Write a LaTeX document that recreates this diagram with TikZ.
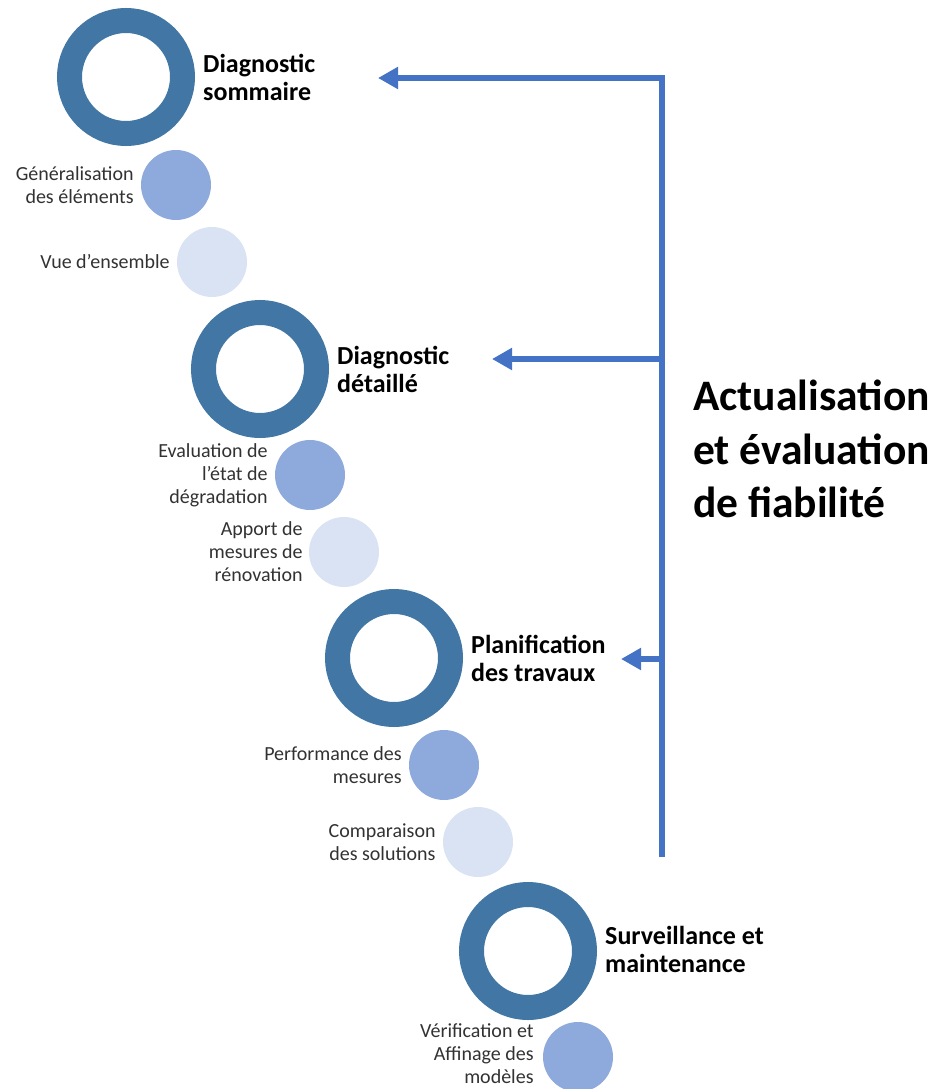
\documentclass[tikz,border=0pt]{standalone}
\usepackage{fontspec}
\setmainfont{Carlito}
\usetikzlibrary{arrows.meta,positioning}
\definecolor{ringblue}{RGB}{65,118,165}
\definecolor{dotdark}{RGB}{142,169,219}
\definecolor{dotlight}{RGB}{218,227,243}
\definecolor{busblue}{RGB}{68,114,196}
\definecolor{smalltext}{RGB}{50,50,50}
\tikzset{
  ring/.style={circle, draw=ringblue, line width=25pt, minimum size=113pt, inner sep=0pt},
  dotA/.style={circle, fill=dotdark, minimum size=70pt, inner sep=0pt},
  dotB/.style={circle, fill=dotlight, minimum size=70pt, inner sep=0pt},
  steplabel/.style={align=left, inner sep=0pt, font=\bfseries\fontsize{26}{28}\selectfont},
  sublabel/.style={align=right, inner sep=0pt, text=smalltext, font=\fontsize{20}{23}\selectfont},
  bus/.style={draw=busblue, line width=6pt, line join=miter},
  busarrow/.style={bus, -{Triangle[length=20pt,width=21pt]}},
}
\begin{document}
\begin{tikzpicture}[x=1pt,y=-1pt]
\useasboundingbox (0,0) rectangle (936,1089);

% step 1
\node[ring] (r1) at (126,77) {};
\node[steplabel, right=8pt of r1] (s1) {Diagnostic\\sommaire};
\node[dotA] (d1a) at (176,185) {};
\node[sublabel, left=7pt of d1a] (l1a) {Généralisation\\des éléments};
\node[dotB] (d1b) at (212,262) {};
\node[sublabel, left=7pt of d1b] (l1b) {Vue d’ensemble};

% step 2
\node[ring] (r2) at (260,369) {};
\node[steplabel, right=8pt of r2] (s2) {Diagnostic\\détaillé};
\node[dotA] (d2a) at (310,475) {};
\node[sublabel, left=7pt of d2a] (l2a) {Evaluation de\\l’état de\\dégradation};
\node[dotB] (d2b) at (344,552) {};
\node[sublabel, left=6pt of d2b] (l2b) {Apport de\\mesures de\\rénovation};

% step 3
\node[ring] (r3) at (394,658) {};
\node[steplabel, right=8pt of r3] (s3) {Planification\\des travaux};
\node[dotA] (d3a) at (444,765) {};
\node[sublabel, left=7pt of d3a] (l3a) {Performance des\\mesures};
\node[dotB] (d3b) at (478,842) {};
\node[sublabel, left=7pt of d3b] (l3b) {Comparaison\\des solutions};

% step 4
\node[ring] (r4) at (528,951) {};
\node[steplabel, right=8pt of r4, yshift=2pt] (s4) {Surveillance et\\maintenance};
\node[dotA] (d4a) at (578,1057) {};
\node[sublabel, left=9pt of d4a, yshift=3pt] (l4a) {Vérification et\\Affinage des\\modèles};

% feedback bus
\coordinate (bend) at (662,857);
\coordinate (b1) at (662,78);
\coordinate (b2) at (662,359);
\coordinate (b3) at (662,659);
\coordinate (t1) at (378,78);
\coordinate (t2) at (492,359);
\coordinate (t3) at (621,659);
\draw[busarrow] (bend) -- (b1) -- (t1);
\draw[busarrow] (b2) -- (t2);
\draw[busarrow] (b3) -- (t3);

\node[anchor=west, align=left, inner sep=0pt, font=\bfseries\fontsize{43.5}{53.5}\selectfont] (act) at (693,449) {Actualisation\\et évaluation\\de fiabilité};
\end{tikzpicture}
\end{document}
